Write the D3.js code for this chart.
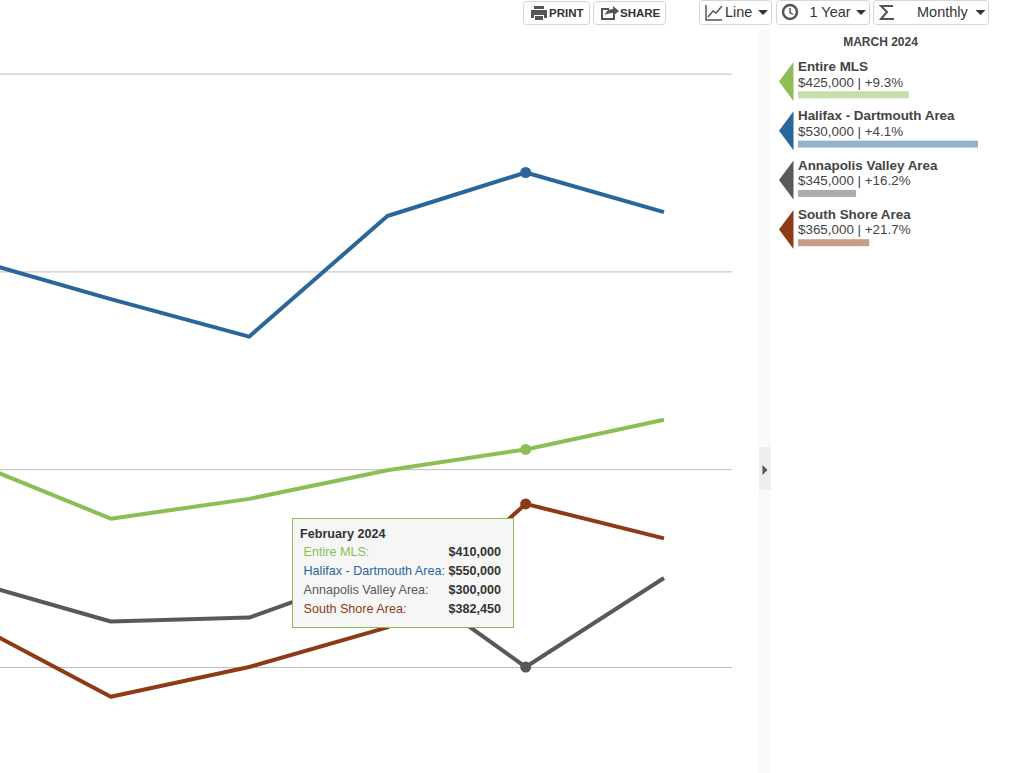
<!DOCTYPE html>
<html>
<head>
<meta charset="utf-8">
<title>MLS price chart</title>
<script src="https://cdn.jsdelivr.net/npm/d3@7"></script>
<style>
   html, body { margin: 0; padding: 0; background: #fff; overflow: hidden; }
   svg { display: block; font-family: "Liberation Sans", Arial, sans-serif; }
   .gridline { stroke: #bdbdbd; stroke-width: 1px; }
   .line { fill: none; stroke-width: 4px; stroke-linejoin: round; }
   .btn { fill: #fff; stroke: #d5d5d5; stroke-width: 1px; }
</style>
</head>
<body>
<div id="mainChart"></div>
<script>
// Chart data
const months = ["October 2023", "November 2023", "December 2023", "January 2024", "February 2024", "March 2024"]
const seriesNames = ["Entire MLS", "Halifax - Dartmouth Area", "Annapolis Valley Area", "South Shore Area"]
const seriesColors = ["#8cbe55", "#2a6699", "#595959", "#8e3a17"]
const entireMls = [403500, 375000, 385000, 399500, 410000, 425000]
const halifax = [506000, 486000, 467000, 528000, 550000, 530000]
const annapolis = [343000, 323000, 325000, 350000, 300000, 345000]
const southShore = [322000, 285000, 300000, 320000, 382450, 365000]
const yTicks = [300000, 400000, 500000, 600000]
const legendChange = ["+9.3%", "+4.1%", "+16.2%", "+21.7%"]
const tooltipMonth = "February 2024"
const legendMonth = "MARCH 2024"
const markedMonth = "February 2024"
const periodLabels = ["Line", "1 Year", "Monthly"]

const allSeries = [entireMls, halifax, annapolis, southShore]
const money = d3.format("$,")

const svg = d3.select("#mainChart").append("svg")
   .attr("width", 1024)
   .attr("height", 773)

// Make scales
let x = d3.scalePoint().domain(months).range([-27.5, 664])
let y = d3.scaleLinear().domain([300000, 600000]).range([667, 73.6])

// Legend bars do not start at zero on the original
let barScale = d3.scaleLinear().domain([257000, 530000]).range([0, 180])

// Horizontal grid lines
let yAxis = d3.axisLeft(y).tickValues(yTicks).tickFormat("").tickSize(0)
let verticalAxis = svg.append("g").attr("class", "y axis").call(yAxis)
verticalAxis.select(".domain").remove()
verticalAxis.selectAll("g.tick line")
   .attr("class", "gridline")
   .attr("x1", 0)
   .attr("x2", 732)

// Line generator object
let line = d3.line()
   .x(function (d, i) { return x(months[i]) })
   .y(function (d) { return y(d) })

allSeries.forEach(function (values, s) {
   svg.append("path")
      .datum(values)
      .attr("class", "line")
      .attr("d", line)
      .style("stroke", seriesColors[s])

   // Only the hovered month has a dot
   svg.append("circle")
      .attr("cx", x(markedMonth))
      .attr("cy", y(values[months.indexOf(markedMonth)]))
      .attr("r", 5.5)
      .attr("fill", seriesColors[s])
})

// Tooltip
let tipIndex = months.indexOf(tooltipMonth)
let tip = svg.append("g").attr("transform", "translate(292,518)")
tip.append("rect")
   .attr("x", 0.5).attr("y", 0.5)
   .attr("width", 221).attr("height", 109)
   .attr("fill", "#f6f6f6")
   .attr("stroke", seriesColors[0])
tip.append("text")
   .attr("x", 8).attr("y", 20)
   .attr("font-size", 12.6).attr("font-weight", "bold").attr("fill", "#333")
   .text(tooltipMonth)
seriesNames.forEach(function (name, s) {
   let rowY = 38 + s * 19
   tip.append("text")
      .attr("x", 11.5).attr("y", rowY)
      .attr("font-size", 12.6).attr("fill", seriesColors[s])
      .text(name + ":")
   tip.append("text")
      .attr("x", 209).attr("y", rowY)
      .attr("text-anchor", "end")
      .attr("font-size", 12.6).attr("font-weight", "bold").attr("fill", "#333")
      .text(money(allSeries[s][tipIndex]))
})

// Collapse strip between chart and legend
svg.append("rect").attr("x", 759).attr("y", 29).attr("width", 12).attr("height", 744).attr("fill", "#fafafa")
svg.append("rect").attr("x", 759).attr("y", 447).attr("width", 12).attr("height", 43).attr("fill", "#eeeeee")
svg.append("path").attr("d", "M762.5,465 L767.5,470 L762.5,475 Z").attr("fill", "#555")

// Legend
let lastIndex = months.length - 1
svg.append("text")
   .attr("x", 880.5).attr("y", 46)
   .attr("text-anchor", "middle")
   .attr("font-size", 12).attr("font-weight", "bold").attr("fill", "#444")
   .text(legendMonth)

seriesNames.forEach(function (name, s) {
   let item = svg.append("g").attr("transform", "translate(0," + (s * 49.3) + ")")
   item.append("path")
      .attr("d", "M793.5,62 L779,81.5 L793.5,101 Z")
      .attr("fill", seriesColors[s])
   item.append("text")
      .attr("x", 798).attr("y", 71)
      .attr("font-size", 13.4).attr("font-weight", "bold").attr("fill", "#444")
      .text(name)
   item.append("text")
      .attr("x", 798).attr("y", 86.5)
      .attr("font-size", 13.4).attr("fill", "#444")
      .text(money(allSeries[s][lastIndex]) + " | " + legendChange[s])
   item.append("rect")
      .attr("x", 798).attr("y", 91.3)
      .attr("width", barScale(allSeries[s][lastIndex]))
      .attr("height", 7)
      .attr("fill", seriesColors[s])
      .attr("opacity", 0.5)
})

// Toolbar buttons
function button(bx, by, w, h) {
   svg.append("rect")
      .attr("class", "btn")
      .attr("x", bx + 0.5).attr("y", by + 0.5)
      .attr("width", w).attr("height", h)
      .attr("rx", 3)
}
function caret(cx, cy) {
   svg.append("path")
      .attr("d", "M" + (cx - 5) + "," + cy + " h10 l-5,5 Z")
      .attr("fill", "#333")
}

button(523, 1, 66, 23)
svg.append("path")
   .attr("d", "M534,6 h10 v3 h-10 Z M531,10 h16 v8 h-3 v-3 h-10 v3 h-3 Z M535,16 h8 v4 h-8 Z")
   .attr("fill", "#555")
svg.append("text").attr("x", 549).attr("y", 16.5)
   .attr("font-size", 11.5).attr("font-weight", "bold").attr("fill", "#333").text("PRINT")

button(593, 1, 72, 23)
svg.append("path")
   .attr("d", "M609,9 h-7 v10 h12 v-4")
   .attr("fill", "none").attr("stroke", "#555").attr("stroke-width", 2)
svg.append("path")
   .attr("d", "M605,15 q1,-6 8,-6 v-3 l6,5 l-6,5 v-3 q-5,0 -8,2 Z")
   .attr("fill", "#555")
svg.append("text").attr("x", 620).attr("y", 16.5)
   .attr("font-size", 11.5).attr("font-weight", "bold").attr("fill", "#333").text("SHARE")

button(699, 0, 72, 24)
svg.append("path")
   .attr("d", "M706,5 v15 h16 M708,17 l5,-6 l3,2 l6,-7")
   .attr("fill", "none").attr("stroke", "#555").attr("stroke-width", 1.5)
svg.append("text").attr("x", 725).attr("y", 17)
   .attr("font-size", 14.5).attr("fill", "#333").text(periodLabels[0])
caret(763, 10)

button(776, 0, 93, 24)
svg.append("circle").attr("cx", 790).attr("cy", 12).attr("r", 7)
   .attr("fill", "none").attr("stroke", "#555").attr("stroke-width", 2.5)
svg.append("path").attr("d", "M790,8 v4.5 l3,2")
   .attr("fill", "none").attr("stroke", "#555").attr("stroke-width", 1.5)
svg.append("text").attr("x", 809.5).attr("y", 17)
   .attr("font-size", 14.5).attr("fill", "#333").text(periodLabels[1])
caret(861, 10)

button(873, 0, 115, 24)
svg.append("path")
   .attr("d", "M893,6 h-12 l6,6 l-6,7 h13")
   .attr("fill", "none").attr("stroke", "#555").attr("stroke-width", 2)
svg.append("text").attr("x", 917).attr("y", 17)
   .attr("font-size", 14.5).attr("fill", "#333").text(periodLabels[2])
caret(980.5, 10)
</script>
</body>
</html>
